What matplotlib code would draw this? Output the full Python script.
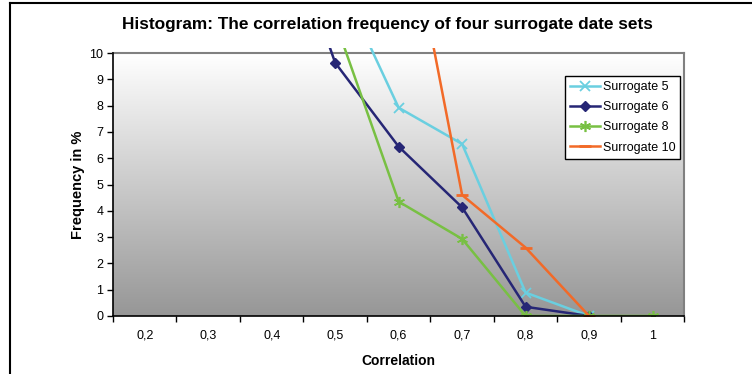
import numpy as np
import matplotlib
matplotlib.use("Agg")
import matplotlib.pyplot as plt
from matplotlib.patches import Rectangle
from matplotlib.lines import Line2D

plt.rcParams['font.family'] = ['Liberation Sans', 'DejaVu Sans']

# Correlation classes (category axis)
categories = ["0,2", "0,3", "0,4", "0,5", "0,6", "0,7", "0,8", "0,9", "1"]

# Frequency in % per correlation class (values above 10 run off the top of the axis)
surrogate_5 = [np.nan, np.nan, np.nan, 13.1, 7.92, 6.54, 0.89, 0.0, np.nan]
surrogate_6 = [np.nan, np.nan, 16.5, 9.63, 6.44, 4.13, 0.35, 0.0, np.nan]
surrogate_8 = [np.nan, np.nan, np.nan, 11.2, 4.35, 2.93, 0.0, 0.0, 0.0]
surrogate_10 = [np.nan, np.nan, np.nan, np.nan, 17.1, 4.6, 2.6, 0.0, np.nan]

series_names = ["Surrogate 5", "Surrogate 6", "Surrogate 8", "Surrogate 10"]

title = "Histogram: The correlation frequency of four surrogate date sets"
ylabel = "Frequency in %"
xlabel = "Correlation"

W, H = 752, 374
fig = plt.figure(figsize=(W / 100, H / 100), dpi=100)
ax = fig.add_axes([113 / W, 1 - 316 / H, (684.3 - 113) / W, (316 - 53) / H])

x = np.arange(len(categories))

# Grey vertical gradient for the plot area
grad = np.linspace(1.0, 0.0, 256).reshape(-1, 1)
top_c = np.array([1.0, 1.0, 1.0])
bot_c = np.array([0.59, 0.59, 0.59])
img = top_c * grad[..., None] + bot_c * (1 - grad[..., None])
ax.imshow(img, extent=[0, 1, 0, 1], transform=ax.transAxes, aspect='auto',
          zorder=0, interpolation='bilinear')

clip = Rectangle((0, 0), 1, 1.02, transform=ax.transAxes, facecolor='none', edgecolor='none')
ax.add_patch(clip)

styles = [
    dict(color="#6ACFE0", marker="x", markersize=7, markeredgewidth=1.3),
    dict(color="#262675", marker="D", markersize=5.5),
    dict(color="#78C043", marker=(6, 2, 0), markersize=8, markeredgewidth=1.2),
    dict(color="#F26A28", marker="_", markersize=9, markeredgewidth=2),
]
for vals, name, st in zip([surrogate_5, surrogate_6, surrogate_8, surrogate_10], series_names, styles):
    ln, = ax.plot(x, vals, linewidth=1.8, label=name, zorder=3, **st)
    ln.set_clip_path(clip)

ax.set_xlim(-0.5, len(categories) - 0.5)
ax.set_ylim(0, 10)
ax.set_yticks(range(0, 11))
ax.set_xticks(x)
ax.set_xticklabels(categories, fontsize=9)
ax.set_xticks(np.arange(-0.5, len(categories)), minor=True)
ax.tick_params(axis='x', which='major', length=0, pad=10)
ax.tick_params(axis='x', which='minor', length=4, width=1, direction='out', color='black')
ax.tick_params(axis='y', which='major', length=4, width=1, direction='out', labelsize=9, pad=3)

for side in ('top', 'right'):
    ax.spines[side].set_color('#808080')
    ax.spines[side].set_linewidth(1.5)
for side in ('left', 'bottom'):
    ax.spines[side].set_color('black')
    ax.spines[side].set_linewidth(1.2)
    ax.spines[side].set_zorder(4)

ax.set_ylabel(ylabel, fontsize=10.5, fontweight='bold', labelpad=3)
ax.set_xlabel(xlabel, fontsize=10, fontweight='bold', labelpad=9)

fig.text(387 / W, 1 - 25 / H, title, ha='center', va='center', fontsize=12.4, fontweight='bold')

leg = ax.legend(loc='upper right', bbox_to_anchor=(0.993, 0.912), fontsize=9,
                frameon=True, fancybox=False, framealpha=1, edgecolor='black',
                borderpad=0.4, labelspacing=0.65, handlelength=2.4, handletextpad=0.2,
                borderaxespad=0)
leg.get_frame().set_linewidth(1.0)

# Outer chart frame (left and top edges)
fig.add_artist(Line2D([10 / W, 10 / W], [0, 1 - 3 / H], transform=fig.transFigure, color='black', linewidth=1.5))
fig.add_artist(Line2D([10 / W, 1], [1 - 3 / H, 1 - 3 / H], transform=fig.transFigure, color='black', linewidth=1.5))

fig.savefig("out.png", dpi=100)
